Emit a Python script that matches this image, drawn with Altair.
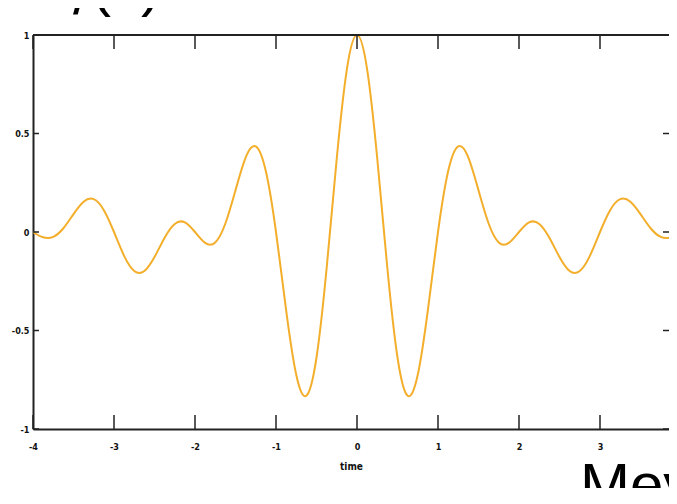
import altair as alt
import pandas as pd

# Curve values (time, amplitude)
time = [-4.0, -3.875, -3.75, -3.625, -3.5, -3.375, -3.25, -3.125,
        -3.0, -2.875, -2.75, -2.625, -2.5, -2.375, -2.25, -2.125,
        -2.0, -1.875, -1.75, -1.625, -1.5, -1.375, -1.25, -1.125,
        -1.0, -0.875, -0.75, -0.625, -0.5, -0.375, -0.25, -0.125,
        0.0, 0.125, 0.25, 0.375, 0.5, 0.625, 0.75, 0.875,
        1.0, 1.125, 1.25, 1.375, 1.5, 1.625, 1.75, 1.875,
        2.0, 2.125, 2.25, 2.375, 2.5, 2.625, 2.75, 2.875,
        3.0, 3.125, 3.25, 3.375, 3.5, 3.625, 3.75, 3.875, 4.0]
amplitude = [0.00, -0.027, -0.025, 0.019, 0.091, 0.154, 0.167, 0.111,
             0.00, -0.121, -0.198, -0.198, -0.127, -0.029, 0.041, 0.049,
             0.00, -0.055, -0.053, 0.043, 0.212, 0.378, 0.435, 0.308,
             0.00, -0.396, -0.725, -0.831, -0.637, -0.184, 0.373, 0.826,
             1.00, 0.826, 0.373, -0.184, -0.637, -0.831, -0.725, -0.396,
             0.00, 0.308, 0.435, 0.378, 0.212, 0.043, -0.053, -0.055,
             0.00, 0.049, 0.041, -0.029, -0.127, -0.198, -0.198, -0.121,
             0.00, 0.111, 0.167, 0.154, 0.091, 0.019, -0.025, -0.027, 0.00]

x_ticks = [-4, -3, -2, -1, 0, 1, 2, 3]
y_ticks = [-1, -0.5, 0, 0.5, 1]

FONT = "Liberation Sans Narrow, DejaVu Sans Condensed, sans-serif"
W, H = 636, 394
X_DOMAIN = [-4, -4 + W / 81.0]
Y_DOMAIN = [-1, 1]

df = pd.DataFrame({"time": time, "amp": amplitude})
xt = pd.DataFrame({"t": x_ticks})
yt = pd.DataFrame({"v": y_ticks})

xscale = alt.Scale(domain=X_DOMAIN, nice=False, zero=False)
yscale = alt.Scale(domain=Y_DOMAIN, nice=False, zero=False)

line = alt.Chart(df).mark_line(
    color="#F3AE2B", strokeWidth=2, interpolate="natural", clip=True
).encode(
    x=alt.X("time:Q", scale=xscale,
            axis=alt.Axis(values=x_ticks, ticks=False, grid=False,
                          domainColor="#222", domainWidth=2,
                          labelExpr="'' + datum.value", labelFlush=False,
                          labelPadding=13, labelFontSize=9, labelFont=FONT,
                          labelColor="#111", labelFontWeight="bold",
                          title="time", titleFont=FONT, titleFontSize=10,
                          titleFontWeight="bold", titleColor="#111",
                          titlePadding=10)),
    y=alt.Y("amp:Q", scale=yscale,
            axis=alt.Axis(values=y_ticks, ticks=False, grid=False,
                          domainColor="#222", domainWidth=2,
                          labelExpr="'' + datum.value",
                          labelPadding=4, labelFontSize=9, labelFont=FONT,
                          labelColor="#111", labelFontWeight="bold",
                          title=None)),
)

top_border = alt.Chart(yt).mark_rule(color="#222", strokeWidth=2).encode(
    x=alt.value(0), x2=alt.value(W), y=alt.value(0)
).transform_filter("datum.v == 1")

bottom_ticks = alt.Chart(xt).mark_rule(color="#222", strokeWidth=1.5).encode(
    x=alt.X("t:Q", scale=xscale), y=alt.value(H - 14), y2=alt.value(H)
)
top_ticks = alt.Chart(xt).mark_rule(color="#222", strokeWidth=1.5).encode(
    x=alt.X("t:Q", scale=xscale), y=alt.value(0), y2=alt.value(14)
)
left_ticks = alt.Chart(yt).mark_rule(color="#222", strokeWidth=1.5).encode(
    y=alt.Y("v:Q", scale=yscale), x=alt.value(0), x2=alt.value(6)
)
right_ticks = alt.Chart(yt).mark_rule(color="#222", strokeWidth=1.5).encode(
    y=alt.Y("v:Q", scale=yscale), x=alt.value(W - 6), x2=alt.value(W)
)

# slide fragments around the figure
frag = pd.DataFrame({"txt": ["Mey", "/", "(", ")"],
                     "px": [547, 40, 58, 108],
                     "py": [470, -21, -30, -30]})
fragments = alt.Chart(frag).mark_text(
    font="Liberation Sans, Arial, sans-serif", fontSize=60, color="#000",
    align="left", baseline="alphabetic"
).encode(
    x=alt.X("px:Q", scale=None), y=alt.Y("py:Q", scale=None), text="txt:N"
)

chart = alt.layer(
    line, top_border, bottom_ticks, top_ticks, left_ticks, right_ticks, fragments
).properties(
    width=W, height=H,
    title=alt.TitleParams("Shannon Wavelet", font=FONT, fontSize=10,
                          fontWeight="bold", color="#111", offset=14),
    autosize=alt.AutoSizeParams(type="none"),
    padding={"left": 25, "top": 27, "right": 0, "bottom": 59},
).configure_view(stroke=None).configure(background="white")

chart.save("out.html", embed_options={"renderer": "svg", "actions": False})
